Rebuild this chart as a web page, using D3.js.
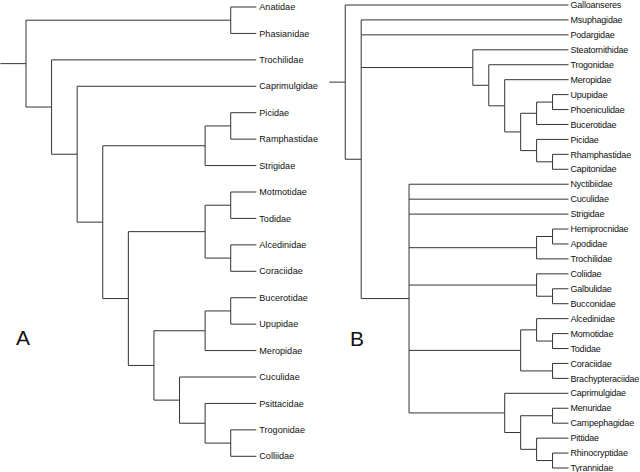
<!DOCTYPE html>
<html>
<head>
<meta charset="utf-8">
<script src="https://cdn.jsdelivr.net/npm/d3@7"></script>
<style>
  html, body { margin: 0; padding: 0; background: #fff; }
  svg { display: block; }
  text { font-family: "Liberation Sans", Arial, sans-serif; fill: #111; }
</style>
</head>
<body>
<svg id="chart" width="640" height="472"></svg>
<script>
// Tree topologies (Newick); internal-node numbers are the node's rank (level) from the tips.
const newickA = "((Anatidae,Phasianidae)1,(Trochilidae,(Caprimulgidae,(((Picidae,Ramphastidae)1,Strigidae)2,(((Motmotidae,Todidae)1,(Alcedinidae,Coraciidae)1)2,(((Bucerotidae,Upupidae)1,Meropidae)2,(Cuculidae,(Psittacidae,(Trogonidae,Colliidae)1)2)3)4)5)6)7)8)9";
const newickB = "(Galloanseres,(Msuphagidae,Podargidae,(Steatornithidae,(Trogonidae,(Meropidae,(((Upupidae,Phoeniculidae)1,Bucerotidae)2,(Picidae,(Rhamphastidae,Capitonidae)1)2)3)4)5)6,(Nyctibiidae,Cuculidae,Strigidae,((Hemiprocnidae,Apodidae)1,Trochilidae)2,(Coliidae,(Galbulidae,Bucconidae)1)2,((Alcedinidae,(Momotidae,Todidae)1)2,(Coraciidae,Brachypteraciidae)1)3,(Caprimulgidae,((Menuridae,Campephagidae)1,(Pittidae,(Rhinocryptidae,Tyrannidae)1)2)3)4)10)13)14";
const panelLabels = ["A", "B"];
const rootStubLevels = [10, 15];

function parseNewick(s) {
  let i = 0;
  function node() {
    const n = {};
    if (s[i] === "(") {
      i++;
      n.children = [node()];
      while (s[i] === ",") { i++; n.children.push(node()); }
      i++; // ')'
    }
    let lab = "";
    while (i < s.length && !",()".includes(s[i])) lab += s[i++];
    if (n.children) n.level = +lab; else { n.name = lab; n.level = 0; }
    return n;
  }
  return node();
}

const svg = d3.select("#chart");

function drawTree(newick, stubLevel, xRange, yRange, fontSize, spacing, gap) {
  const root = d3.hierarchy(parseNewick(newick));
  const leaves = root.leaves();
  const y = d3.scalePoint().domain(leaves.map(d => d.data.name)).range(yRange);
  const x = d3.scaleLinear().domain([0, stubLevel]).range(xRange);
  root.eachAfter(d => {
    d.px = x(d.data.level);
    if (!d.children) d.py = y(d.data.name);
    else d.py = (d.children[0].py + d.children[d.children.length - 1].py) / 2;
  });
  const g = svg.append("g");
  const segs = [];
  segs.push([x(stubLevel), root.py, root.px, root.py]);
  root.each(d => {
    if (d.children) {
      const c0 = d.children[0], c1 = d.children[d.children.length - 1];
      segs.push([d.px, c0.py, d.px, c1.py]);
      d.children.forEach(c => segs.push([d.px, c.py, c.px, c.py]));
    }
  });
  g.selectAll("line").data(segs).join("line")
    .attr("x1", s => s[0]).attr("y1", s => s[1])
    .attr("x2", s => s[2]).attr("y2", s => s[3])
    .attr("stroke", "#333").attr("stroke-width", 1);
  g.selectAll("text").data(leaves).join("text")
    .attr("x", d => d.px + gap).attr("y", d => d.py)
    .attr("dy", "0.35em")
    .attr("font-size", fontSize)
    .attr("letter-spacing", spacing)
    .text(d => d.data.name);
}

drawTree(newickA, rootStubLevels[0], [256.3, 0.4], [7, 456.3], 9.1, 0, 3);
drawTree(newickB, rootStubLevels[1], [568.5, 329.3], [5, 468], 9, -0.2, 2);

svg.append("text").attr("x", 16).attr("y", 345).attr("font-size", 21).text(panelLabels[0]);
svg.append("text").attr("x", 350).attr("y", 345.5).attr("font-size", 21).text(panelLabels[1]);
</script>
</body>
</html>
